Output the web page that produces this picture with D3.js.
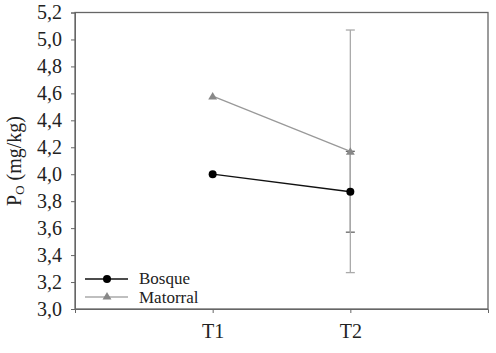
<!DOCTYPE html>
<html>
<head>
<meta charset="utf-8">
<script src="https://cdn.jsdelivr.net/npm/d3@7"></script>
<style>
  body { margin: 0; background: #fff; }
  svg text { font-family: "Liberation Serif", "Times New Roman", Times, serif !important; }
</style>
</head>
<body>
<div id="chart"></div>
<script>
// data
var categories = ["T1", "T2"];
var bosque = [4.00, 3.87];
var bosqueErr = [null, 0.30];
var matorral = [4.58, 4.17];
var matorralErr = [null, 0.90];
var yTicks = [3.0, 3.2, 3.4, 3.6, 3.8, 4.0, 4.2, 4.4, 4.6, 4.8, 5.0, 5.2];

var W = 496, H = 353;
var margin = {left: 75, right: 8, top: 12.5, bottom: 44};
var FS = 20;
var SERIF = "Liberation Serif";

var svg = d3.select("#chart").append("svg")
    .attr("width", W)
    .attr("height", H)
    .attr("font-family", SERIF);

var x = d3.scaleLinear()
    .domain([0, 3])
    .range([margin.left, W - margin.right]);

var y = d3.scaleLinear()
    .domain([3.0, 5.2])
    .range([H - margin.bottom, margin.top]);

var fmt = function(d) { return d3.format(".1f")(d).replace(".", ","); };

// frame
svg.append("rect")
    .attr("x", x(0))
    .attr("y", y(5.2))
    .attr("width", x(3) - x(0))
    .attr("height", y(3.0) - y(5.2))
    .attr("fill", "none")
    .attr("stroke", "#666")
    .attr("stroke-width", 1.3);

var yAxis = svg.append("g")
    .attr("transform", "translate(" + x(0) + ",0)")
    .call(d3.axisLeft(y).tickValues(yTicks).tickFormat(fmt).tickSize(4).tickPadding(9));
yAxis.attr("font-family", SERIF);
yAxis.select(".domain").attr("stroke", "#666");
yAxis.selectAll(".tick line").attr("stroke", "#666");
yAxis.selectAll(".tick text").attr("font-size", FS).attr("fill", "#222");

var xAxis = svg.append("g")
    .attr("transform", "translate(0," + y(3.0) + ")")
    .call(d3.axisBottom(x).tickValues([1, 2])
        .tickFormat(function(d) { return categories[d - 1]; })
        .tickSize(4).tickPadding(11));
xAxis.attr("font-family", SERIF);
xAxis.select(".domain").attr("stroke", "#666");
xAxis.selectAll(".tick line").attr("stroke", "#666");
xAxis.selectAll(".tick text").attr("font-size", FS).attr("fill", "#222");

// y label
var ylab = svg.append("text")
    .attr("transform", "translate(21,161) rotate(-90)")
    .attr("text-anchor", "middle")
    .attr("font-size", FS)
    .attr("fill", "#222");
ylab.append("tspan").text("P");
ylab.append("tspan").attr("font-size", 13).attr("dy", 3).text("O");
ylab.append("tspan").attr("dy", -3).text(" (mg/kg)");

function errorBars(vals, errs, color) {
    vals.forEach(function(v, i) {
        var e = errs[i];
        if (e == null) return;
        var cx = x(i + 1);
        svg.append("line")
            .attr("x1", cx).attr("x2", cx)
            .attr("y1", y(v - e)).attr("y2", y(v + e))
            .attr("stroke", color).attr("stroke-width", 1.3);
        [v - e, v + e].forEach(function(c) {
            svg.append("line")
                .attr("x1", cx - 4.5).attr("x2", cx + 4.5)
                .attr("y1", y(c)).attr("y2", y(c))
                .attr("stroke", color).attr("stroke-width", 1.3);
        });
    });
}

var line = d3.line()
    .x(function(d, i) { return x(i + 1); })
    .y(function(d) { return y(d); });

errorBars(bosque, bosqueErr, "#666");
errorBars(matorral, matorralErr, "#aaa");

svg.append("path")
    .datum(bosque)
    .attr("d", line)
    .attr("fill", "none")
    .attr("stroke", "#111")
    .attr("stroke-width", 1.3);

svg.append("path")
    .datum(matorral)
    .attr("d", line)
    .attr("fill", "none")
    .attr("stroke", "#999")
    .attr("stroke-width", 1.3);

var tri = d3.symbol().type(d3.symbolTriangle).size(34);

svg.selectAll(".bpt")
    .data(bosque)
    .enter().append("circle")
    .attr("cx", function(d, i) { return x(i + 1); })
    .attr("cy", function(d) { return y(d); })
    .attr("r", 4)
    .attr("fill", "#000");

svg.selectAll(".mpt")
    .data(matorral)
    .enter().append("path")
    .attr("d", tri)
    .attr("transform", function(d, i) { return "translate(" + x(i + 1) + "," + (y(d) + 1) + ")"; })
    .attr("fill", "#888");

// legend
var lg = svg.append("g").attr("transform", "translate(85,279)");
lg.append("line").attr("x1", 0).attr("x2", 43).attr("y1", 0).attr("y2", 0)
    .attr("stroke", "#111").attr("stroke-width", 1.3);
lg.append("circle").attr("cx", 22).attr("cy", 0).attr("r", 4).attr("fill", "#000");
lg.append("text").attr("x", 54).attr("y", 5).attr("font-size", 17).attr("fill", "#222").text("Bosque");
lg.append("line").attr("x1", 0).attr("x2", 43).attr("y1", 18).attr("y2", 18)
    .attr("stroke", "#aaa").attr("stroke-width", 1.3);
lg.append("path").attr("d", tri).attr("transform", "translate(22,18)").attr("fill", "#888");
lg.append("text").attr("x", 54).attr("y", 24).attr("font-size", 17).attr("fill", "#222").text("Matorral");
</script>
</body>
</html>
